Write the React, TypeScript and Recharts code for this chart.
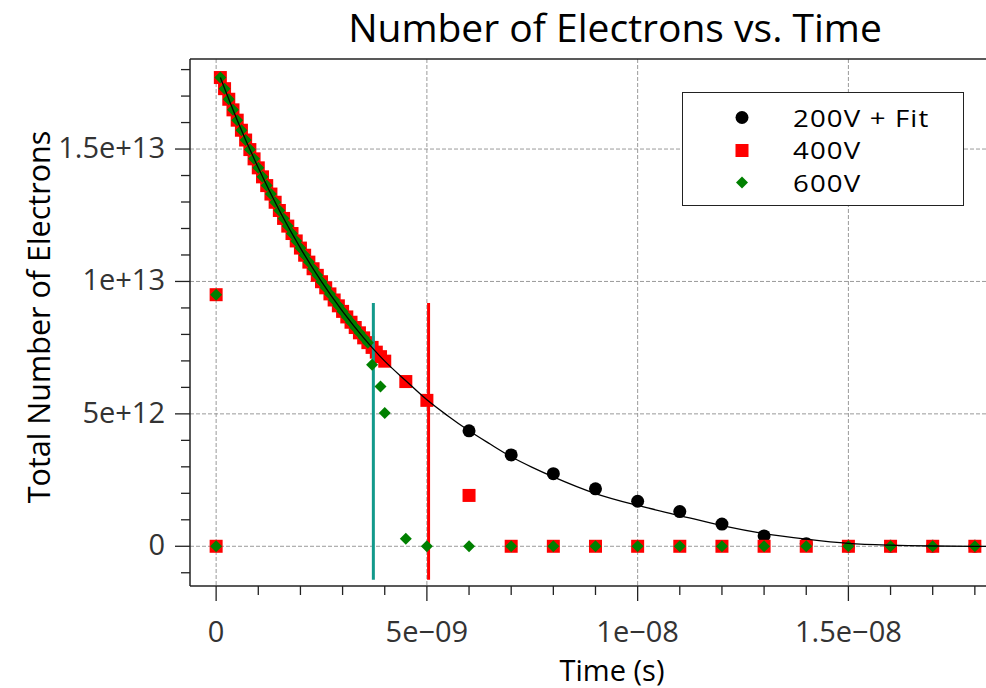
import {
  ScatterChart,
  Scatter,
  XAxis,
  YAxis,
  CartesianGrid,
  ReferenceLine,
  Legend,
  Label,
  Customized,
} from "recharts";

const FONT = "'Open Sans', 'Noto Sans', sans-serif";

// axis ticks
const X_MAJOR = [0, 5e-9, 1e-8, 1.5e-8];
const X_MAJOR_LABELS = ["0", "5e\u221209", "1e\u221208", "1.5e\u221208"];
const X_MINOR = [1e-9, 2e-9, 3e-9, 4e-9, 6e-9, 7e-9, 8e-9, 9e-9, 1.1e-8, 1.2e-8, 1.3e-8, 1.4e-8, 1.6e-8, 1.7e-8, 1.8e-8];
const Y_MAJOR = [0, 5e12, 1e13, 1.5e13];
const Y_MAJOR_LABELS = ["0", "5e+12", "1e+13", "1.5e+13"];
const Y_MINOR = [-1e12, 1e12, 2e12, 3e12, 4e12, 6e12, 7e12, 8e12, 9e12, 1.1e13, 1.2e13, 1.3e13, 1.4e13, 1.6e13, 1.7e13, 1.8e13];

const X_DOMAIN = [-0.62e-9, 1.9e-8];
const Y_DOMAIN = [-1.5e12, 1.84e13];

const SERIES_NAMES = ["200V + Fit", "400V", "600V"];

// times are in ns, converted to seconds when the rows are built
const START_T = [0, 0];
const START_N = [0, 9.5e12];

// shared samples where 400V and 600V sit on top of each other
const DENSE_T = [
  0.1, 0.2, 0.3, 0.4, 0.5, 0.6, 0.7, 0.8, 0.9, 1.0,
  1.1, 1.2, 1.3, 1.4, 1.5, 1.6, 1.7, 1.8, 1.9, 2.0,
  2.1, 2.2, 2.3, 2.4, 2.5, 2.6, 2.7, 2.8, 2.9, 3.0,
  3.1, 3.2, 3.3, 3.4, 3.5, 3.6, 3.7, 3.8, 3.9, 4.0,
];
const DENSE_N = [
  1.77e13, 1.728e13, 1.688e13, 1.648e13, 1.609e13, 1.571e13, 1.534e13, 1.498e13, 1.463e13, 1.429e13,
  1.395e13, 1.362e13, 1.33e13, 1.299e13, 1.268e13, 1.238e13, 1.209e13, 1.181e13, 1.153e13, 1.126e13,
  1.099e13, 1.073e13, 1.048e13, 1.023e13, 9.99e12, 9.76e12, 9.53e12, 9.3e12, 9.08e12, 8.87e12,
  8.66e12, 8.46e12, 8.26e12, 8.06e12, 7.87e12, 7.69e12, 7.51e12, 7.33e12, 7.16e12, 6.99e12,
];

const V200_T = [6, 7, 8, 9, 10, 11, 12, 13, 14, 15, 16, 17, 18];
const V200_N = [4.36e12, 3.45e12, 2.74e12, 2.17e12, 1.7e12, 1.31e12, 8.4e11, 3.9e11, 1.0e11, 0, 0, 0, 0];

const V400_T = [4.5, 5, 6, 7, 8, 9, 10, 11, 12, 13, 14, 15, 16, 17, 18];
const V400_N = [6.22e12, 5.51e12, 1.92e12, 0, 0, 0, 0, 0, 0, 0, 0, 0, 0, 0, 0];

const V600_DENSE_COUNT = 36;
const V600_T = [3.7, 3.9, 4.0, 4.5, 5, 6, 7, 8, 9, 10, 11, 12, 13, 14, 15, 16, 17, 18];
const V600_N = [6.85e12, 6.03e12, 5.03e12, 2.8e11, 0, 0, 0, 0, 0, 0, 0, 0, 0, 0, 0, 0, 0, 0];

// exponential fit drawn through the 200V run
const FIT_T = [0.1, 0.5, 1, 1.5, 2, 2.5, 3, 3.5, 4, 4.5, 5, 5.5, 6, 6.5, 7, 7.5, 8, 9, 10, 11, 12, 13, 14, 15, 16, 17, 18, 19];
const FIT_N = [
  1.77e13, 1.609e13, 1.429e13, 1.268e13, 1.126e13, 9.99e12, 8.87e12, 7.87e12, 6.99e12, 6.25e12,
  5.53e12, 4.92e12, 4.36e12, 3.86e12, 3.38e12, 2.98e12, 2.62e12, 1.99e12, 1.54e12, 1.16e12,
  7.8e11, 4.8e11, 2.7e11, 1.1e11, 4e10, 1e10, 0, 0,
];

// vertical cut-off markers
const CUT_TEAL_T = [3.73, 3.73];
const CUT_RED_T = [5.04, 5.04];
const CUT_N = [9.19e12, -1.265e12];

const rows = (ts: number[], ns: number[]) => ts.map((t, i) => ({ t: t * 1e-9, n: ns[i] }));

const data200 = rows(V200_T, V200_N);
const data400 = [...rows(START_T, START_N), ...rows(DENSE_T, DENSE_N), ...rows(V400_T, V400_N)];
const data600 = [
  ...rows(START_T, START_N),
  ...rows(DENSE_T.slice(0, V600_DENSE_COUNT), DENSE_N.slice(0, V600_DENSE_COUNT)),
  ...rows(V600_T, V600_N),
];
const fitData = rows(FIT_T, FIT_N);
const tealCut = rows(CUT_TEAL_T, CUT_N);
const redCut = rows(CUT_RED_T, CUT_N);

const Dot = ({ cx, cy }: any) => <circle cx={cx} cy={cy} r={6.5} fill="#000" />;
const Square = ({ cx, cy }: any) => <rect x={cx - 6.5} y={cy - 6.5} width={13} height={13} fill="#ff0000" />;
const Diamond = ({ cx, cy }: any) => (
  <polygon points={`${cx},${cy - 6} ${cx + 6},${cy} ${cx},${cy + 6} ${cx - 6},${cy}`} fill="#008000" />
);
const NoDot = () => <g />;

const XTick = ({ x, y, payload }: any) => {
  const i = X_MAJOR.findIndex((v) => Math.abs(v - payload.value) < 1e-13);
  const major = i >= 0;
  return (
    <g>
      <line x1={x} x2={x} y1={y} y2={y + (major ? 15 : 9)} stroke="#222" strokeWidth={1.3} />
      {major && (
        <text x={x} y={y + 56} textAnchor="middle" fontFamily={FONT} fontSize={29} fill="#333">
          {X_MAJOR_LABELS[i]}
        </text>
      )}
    </g>
  );
};

const YTick = ({ x, y, payload }: any) => {
  const i = Y_MAJOR.indexOf(payload.value);
  const major = i >= 0;
  return (
    <g>
      <line x1={x - (major ? 15 : 9)} x2={x} y1={y} y2={y} stroke="#222" strokeWidth={1.3} />
      {major && (
        <text x={x - 25} y={y + 9} textAnchor="end" fontFamily={FONT} fontSize={29} fill="#333">
          {Y_MAJOR_LABELS[i]}
        </text>
      )}
    </g>
  );
};

const Title = () => (
  <text x={615} y={42} textAnchor="middle" fontFamily={FONT} fontSize={39} fill="#000">
    Number of Electrons vs. Time
  </text>
);

const LegendBox = () => (
  <div
    style={{
      boxSizing: "border-box",
      width: 282,
      height: 114,
      border: "1.5px solid #222",
      background: "#fff",
      position: "relative",
      fontFamily: FONT,
      fontSize: 24,
      letterSpacing: 1,
      color: "#000",
    }}
  >
    {SERIES_NAMES.map((name, i) => (
      <div
        key={name}
        style={{ position: "absolute", left: 0, top: 8 + i * 32.6, height: 33, display: "flex", alignItems: "center" }}
      >
        <svg width={110} height={33}>
          {i === 0 && <Dot cx={59} cy={16.5} />}
          {i === 1 && <Square cx={59} cy={16.5} />}
          {i === 2 && <Diamond cx={59} cy={16.5} />}
        </svg>
        <span
          style={{
            display: "block",
            lineHeight: "32px",
            whiteSpace: "nowrap",
            transform: "scaleX(1.15)",
            transformOrigin: "left center",
          }}
        >
          {name}
        </span>
      </div>
    ))}
  </div>
);

export default function App() {
  return (
    <div style={{ position: "fixed", left: 0, top: 0, width: 986, height: 688, overflow: "hidden", background: "#fff" }}>
      <ScatterChart width={1040} height={688} margin={{ top: 59, right: 23, bottom: 42, left: 0 }}>
        <CartesianGrid
          horizontalValues={Y_MAJOR}
          verticalValues={X_MAJOR}
          stroke="#9a9a9a"
          strokeDasharray="4 2"
        />
        <XAxis
          type="number"
          dataKey="t"
          domain={X_DOMAIN}
          allowDataOverflow
          ticks={[...X_MAJOR, ...X_MINOR]}
          interval={0}
          tickSize={0}
          tickMargin={0}
          tickLine={false}
          tick={XTick}
          height={60}
          axisLine={{ stroke: "#222", strokeWidth: 1.5 }}
        >
          <Label
            content={() => (
              <text x={612} y={681} textAnchor="middle" fontFamily={FONT} fontSize={29} fill="#000">
                Time (s)
              </text>
            )}
          />
        </XAxis>
        <YAxis
          type="number"
          dataKey="n"
          domain={Y_DOMAIN}
          allowDataOverflow
          ticks={[...Y_MAJOR, ...Y_MINOR]}
          interval={0}
          tickSize={0}
          tickMargin={0}
          tickLine={false}
          tick={YTick}
          width={190}
          axisLine={{ stroke: "#222", strokeWidth: 1.5 }}
        >
          <Label
            content={() => (
              <text
                x={50}
                y={317}
                transform="rotate(-90, 50, 317)"
                textAnchor="middle"
                fontFamily={FONT}
                fontSize={30.5}
                fill="#000"
              >
                Total Number of Electrons
              </text>
            )}
          />
        </YAxis>
        <ReferenceLine y={Y_DOMAIN[1]} stroke="#222" strokeWidth={1.5} />
        <Scatter data={data200} shape={Dot} isAnimationActive={false} />
        <Scatter data={data400} shape={Square} isAnimationActive={false} />
        <Scatter data={tealCut} shape={NoDot} line={{ stroke: "#12998b", strokeWidth: 3 }} isAnimationActive={false} />
        <Scatter data={redCut} shape={NoDot} line={{ stroke: "#ff0000", strokeWidth: 3 }} isAnimationActive={false} />
        <Scatter data={data600} shape={Diamond} isAnimationActive={false} />
        <Scatter
          data={fitData}
          shape={NoDot}
          line={{ stroke: "#000", strokeWidth: 1.3 }}
          lineJointType="monotoneX"
          isAnimationActive={false}
        />
        <Customized component={Title} />
        <Legend
          layout="vertical"
          align="center"
          verticalAlign="middle"
          content={LegendBox}
          wrapperStyle={{ left: 682, top: 92, width: 282, height: 114 }}
        />
      </ScatterChart>
    </div>
  );
}
